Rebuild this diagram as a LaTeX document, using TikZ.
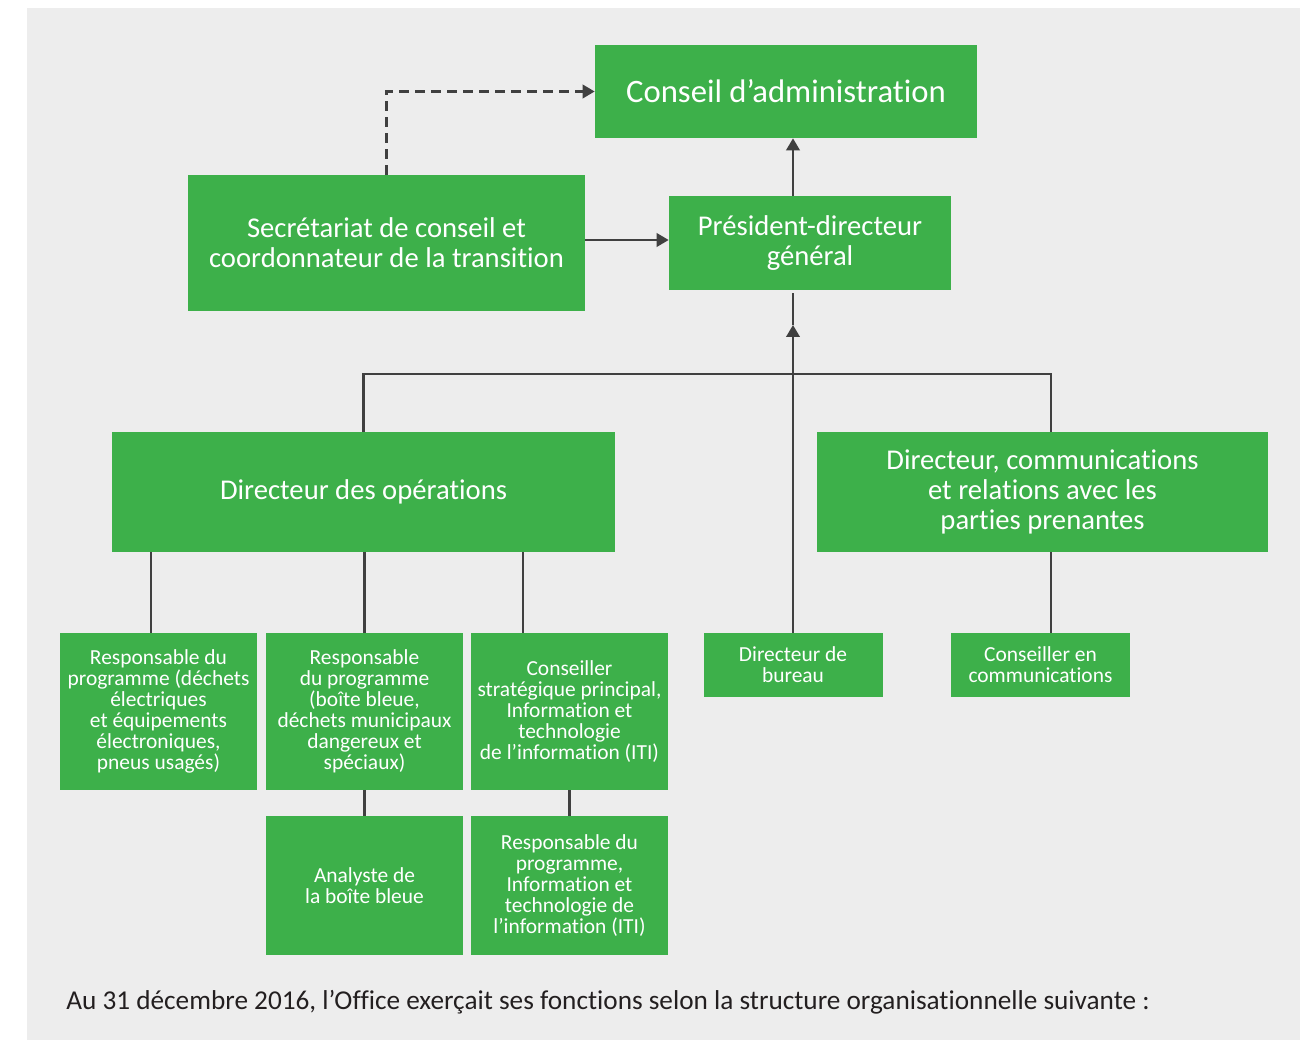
\documentclass[tikz,border=0pt]{standalone}
\usepackage{fontspec}
\setmainfont[Ligatures=NoCommon]{Carlito}
\usetikzlibrary{arrows.meta,positioning,calc}
\definecolor{Leaf}{HTML}{3DB04A}
\definecolor{Panel}{HTML}{EDEDED}
\definecolor{Wire}{HTML}{404040}
\definecolor{Ink}{HTML}{231F20}

\begin{document}
\begin{tikzpicture}[
  box/.style={fill=Leaf,text=white,align=center,inner sep=0pt},
  big/.style={box,font=\fontsize{16.3}{17.2}\selectfont},
  small/.style={box,font=\fontsize{12.2}{12}\selectfont,minimum width=3.94cm},
  link/.style={draw=Wire,line width=1.3pt},
  arr/.style={link,-{Triangle[length=0.24cm,width=0.27cm]}},
  dashlink/.style={arr,dash pattern=on 0.2cm off 0.12cm}
]
  \path[use as bounding box] (0,0) rectangle (26.14,20.8);
  \fill[Panel] (0.54,0) rectangle (26,20.64);

  % top level
  \node[big,minimum width=7.64cm,minimum height=1.86cm,font=\fontsize{18.6}{20}\selectfont] (conseil) at (15.72,18.97) {Conseil d’administration};
  \node[big,minimum width=7.94cm,minimum height=2.72cm] (secr) at (7.73,15.94) {Secrétariat de conseil et\\coordonnateur de la transition};
  \node[big,minimum width=5.64cm,minimum height=1.88cm] (pdg) at (16.2,15.94) {Président-directeur\\général};

  % directors
  \node[big,minimum width=10.06cm,minimum height=2.4cm] (ops) at (7.27,10.96) {Directeur des opérations};
  \node[big,minimum width=9.02cm,minimum height=2.4cm] (comm) at (20.85,10.96) {Directeur, communications\\et relations avec les\\parties prenantes};

  % third level
  \node[small,minimum height=3.14cm] (resp1) at (3.17,6.57) {Responsable du\\programme (déchets\\électriques\\et équipements\\électroniques,\\pneus usagés)};
  \node[small,minimum height=3.14cm] (resp2) at (7.29,6.57) {Responsable\\du programme\\(boîte bleue,\\déchets municipaux\\dangereux et\\spéciaux)};
  \node[small,minimum height=3.14cm] (strat) at (11.39,6.57) {Conseiller\\stratégique principal,\\Information et\\technologie\\de l’information (ITI)};
  \node[small,minimum width=3.58cm,minimum height=1.28cm] (bureau) at (15.86,7.5) {Directeur de\\bureau};
  \node[small,minimum width=3.58cm,minimum height=1.28cm] (conscomm) at (20.81,7.5) {Conseiller en\\communications};

  % fourth level
  \node[small,minimum height=2.78cm] (analyste) at (7.29,3.09) {Analyste de\\la boîte bleue};
  \node[small,minimum height=2.78cm] (respiti) at (11.39,3.09) {Responsable du\\programme,\\Information et\\technologie de\\l’information (ITI)};

  \node[anchor=west,inner sep=0pt,text=Ink,font=\fontsize{15.5}{17}\selectfont] (note) at (1.32,0.76) {Au 31 décembre 2016, l’Office exerçait ses fonctions selon la structure organisationnelle suivante :};

  % connectors
  \coordinate (tip) at (15.86,14.3);
  \coordinate (bus) at (15.86,13.32);
  \draw[dashlink] (secr.north) |- (conseil.west);
  \draw[arr] (secr.east |- 0,16.0) -- (pdg.west |- 0,16.0);
  \draw[arr] (tip |- pdg.north) -- (tip |- conseil.south);
  \draw[arr] (bureau.north) -- (tip);
  \draw[link] (tip) -- ([yshift=-0.06cm]tip |- pdg.south);
  \draw[link] (ops.north) |- (bus) -| ([xshift=0.17cm]comm.north);
  \draw[link] ([xshift=0.17cm]comm.south) -- ([xshift=0.17cm]comm.south |- conscomm.north);
  \draw[link] ([xshift=-0.15cm]resp1.north) -- ([xshift=-0.15cm]resp1.north |- ops.south);
  \draw[link] (resp2.north) -- (resp2.north |- ops.south);
  \draw[link] ([xshift=-0.93cm]strat.north) -- ([xshift=-0.93cm]strat.north |- ops.south);
  \draw[link] (resp2.south) -- (analyste.north);
  \draw[link] (strat.south) -- (respiti.north);
\end{tikzpicture}
\end{document}
